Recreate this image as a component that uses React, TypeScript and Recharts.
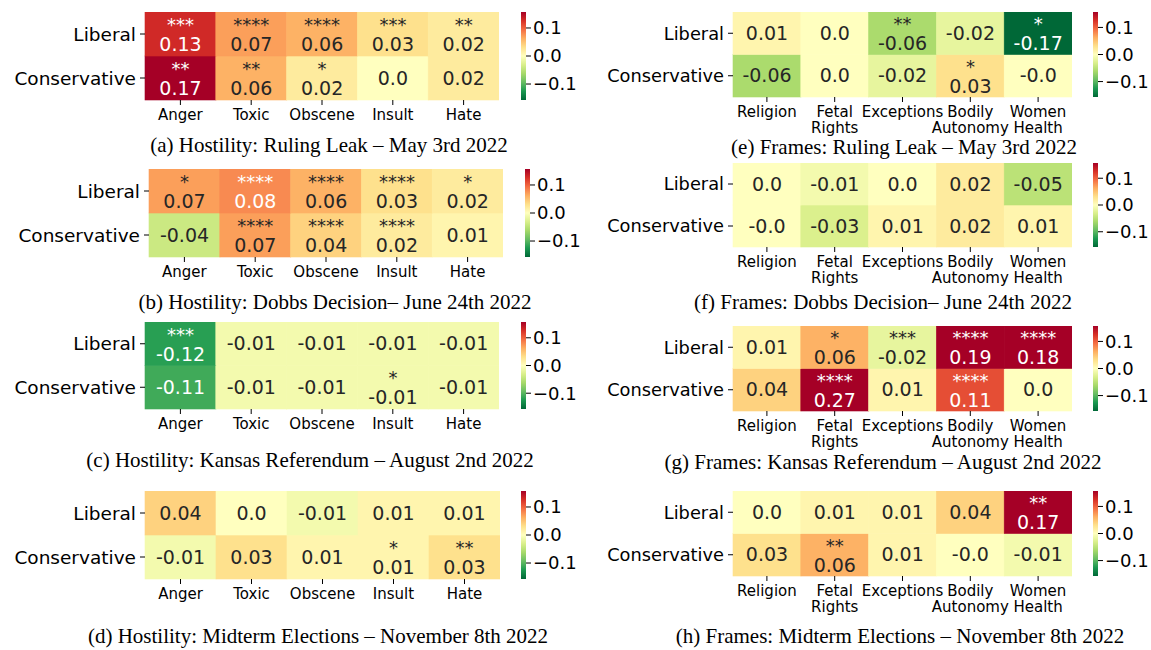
import React from 'react'
import { BarChart, Bar, XAxis, YAxis } from 'recharts'

// Rows and columns
const rowLabels = ['Liberal', 'Conservative']
const hostilityCategories = ['Anger', 'Toxic', 'Obscene', 'Insult', 'Hate']
const frameCategories = ['Religion', 'Fetal Rights', 'Exceptions', 'Bodily Autonomy', 'Women Health']
const colorbarTicks = [-0.1, 0, 0.1]

// (a) Hostility: Ruling Leak
const leakHostLib = [0.13, 0.07, 0.06, 0.03, 0.02]
const leakHostLibSig = ['***', '****', '****', '***', '**']
const leakHostCons = [0.17, 0.06, 0.02, 0.0, 0.02]
const leakHostConsSig = ['**', '**', '*', '', '']

// (b) Hostility: Dobbs Decision
const dobbsHostLib = [0.07, 0.08, 0.06, 0.03, 0.02]
const dobbsHostLibSig = ['*', '****', '****', '****', '*']
const dobbsHostCons = [-0.04, 0.07, 0.04, 0.02, 0.01]
const dobbsHostConsSig = ['', '****', '****', '****', '']

// (c) Hostility: Kansas Referendum
const kansasHostLib = [-0.12, -0.01, -0.01, -0.01, -0.01]
const kansasHostLibSig = ['***', '', '', '', '']
const kansasHostCons = [-0.11, -0.01, -0.01, -0.01, -0.01]
const kansasHostConsSig = ['', '', '', '*', '']

// (d) Hostility: Midterm Elections
const midtermHostLib = [0.04, 0.0, -0.01, 0.01, 0.01]
const midtermHostLibSig = ['', '', '', '', '']
const midtermHostCons = [-0.01, 0.03, 0.01, 0.01, 0.03]
const midtermHostConsSig = ['', '', '', '*', '**']

// (e) Frames: Ruling Leak
const leakFrameLib = [0.01, 0.0, -0.06, -0.02, -0.17]
const leakFrameLibSig = ['', '', '**', '', '*']
const leakFrameCons = [-0.06, 0.0, -0.02, 0.03, -0.0]
const leakFrameConsSig = ['', '', '', '*', '']

// (f) Frames: Dobbs Decision
const dobbsFrameLib = [0.0, -0.01, 0.0, 0.02, -0.05]
const dobbsFrameLibSig = ['', '', '', '', '']
const dobbsFrameCons = [-0.0, -0.03, 0.01, 0.02, 0.01]
const dobbsFrameConsSig = ['', '', '', '', '']

// (g) Frames: Kansas Referendum
const kansasFrameLib = [0.01, 0.06, -0.02, 0.19, 0.18]
const kansasFrameLibSig = ['', '*', '***', '****', '****']
const kansasFrameCons = [0.04, 0.27, 0.01, 0.11, 0.0]
const kansasFrameConsSig = ['', '****', '', '****', '']

// (h) Frames: Midterm Elections
const midtermFrameLib = [0.0, 0.01, 0.01, 0.04, 0.17]
const midtermFrameLibSig = ['', '', '', '', '**']
const midtermFrameCons = [0.03, 0.06, 0.01, -0.0, -0.01]
const midtermFrameConsSig = ['', '**', '', '', '']

const panels = [
  { id: 'a', cats: hostilityCategories, lib: leakHostLib, libSig: leakHostLibSig, cons: leakHostCons, consSig: leakHostConsSig, caption: '(a) Hostility: Ruling Leak – May 3rd 2022' },
  { id: 'b', cats: hostilityCategories, lib: dobbsHostLib, libSig: dobbsHostLibSig, cons: dobbsHostCons, consSig: dobbsHostConsSig, caption: '(b) Hostility: Dobbs Decision– June 24th 2022' },
  { id: 'c', cats: hostilityCategories, lib: kansasHostLib, libSig: kansasHostLibSig, cons: kansasHostCons, consSig: kansasHostConsSig, caption: '(c) Hostility: Kansas Referendum – August 2nd 2022' },
  { id: 'd', cats: hostilityCategories, lib: midtermHostLib, libSig: midtermHostLibSig, cons: midtermHostCons, consSig: midtermHostConsSig, caption: '(d) Hostility: Midterm Elections – November 8th 2022' },
  { id: 'e', cats: frameCategories, lib: leakFrameLib, libSig: leakFrameLibSig, cons: leakFrameCons, consSig: leakFrameConsSig, caption: '(e) Frames: Ruling Leak – May 3rd 2022' },
  { id: 'f', cats: frameCategories, lib: dobbsFrameLib, libSig: dobbsFrameLibSig, cons: dobbsFrameCons, consSig: dobbsFrameConsSig, caption: '(f) Frames: Dobbs Decision– June 24th 2022' },
  { id: 'g', cats: frameCategories, lib: kansasFrameLib, libSig: kansasFrameLibSig, cons: kansasFrameCons, consSig: kansasFrameConsSig, caption: '(g) Frames: Kansas Referendum – August 2nd 2022' },
  { id: 'h', cats: frameCategories, lib: midtermFrameLib, libSig: midtermFrameLibSig, cons: midtermFrameCons, consSig: midtermFrameConsSig, caption: '(h) Frames: Midterm Elections – November 8th 2022' },
]

// page layout: plot box, colorbar x, caption centre, row label size
const layout: Record<string, { x: number; y: number; w: number; h: number; cbX: number; capX: number; capY: number; fs: number }> = {
  a: { x: 145, y: 12, w: 354, h: 88, cbX: 521, capX: 329, capY: 145, fs: 18.5 },
  b: { x: 149, y: 169, w: 354, h: 88, cbX: 525, capX: 335, capY: 302, fs: 18.5 },
  c: { x: 145, y: 322, w: 354, h: 87, cbX: 521, capX: 310, capY: 460, fs: 18.5 },
  d: { x: 145, y: 491, w: 355, h: 88, cbX: 521, capX: 318, capY: 636, fs: 18.5 },
  e: { x: 733, y: 12, w: 339, h: 85, cbX: 1093, capX: 904, capY: 147, fs: 17.8 },
  f: { x: 733, y: 163, w: 339, h: 84, cbX: 1093, capX: 883, capY: 302, fs: 17.8 },
  g: { x: 733, y: 326, w: 339, h: 85, cbX: 1093, capX: 883, capY: 462, fs: 17.8 },
  h: { x: 733, y: 491, w: 339, h: 85, cbX: 1093, capX: 900, capY: 636, fs: 17.8 },
}

const SANS = 'DejaVu Sans'
const SERIF = 'Liberation Serif'
const Y_AXIS_W = 140
const CB_W = 5
const VMAX = 0.157
const VMIN = -0.157

// RdYlGn, red first (reversed when mapping values)
const RDYLGN = ['#a50026', '#d73027', '#f46d43', '#fdae61', '#fee08b', '#ffffbf', '#d9ef8b', '#a6d96a', '#66bd63', '#1a9850', '#006837']

const hexToRgb = (h: string) => [1, 3, 5].map(i => parseInt(h.slice(i, i + 2), 16))

function valueColor(v: number) {
  let t = (v - VMIN) / (VMAX - VMIN)
  t = Math.max(0, Math.min(1, t))
  const s = (1 - t) * 10
  const i = Math.min(9, Math.floor(s))
  const f = s - i
  const a = hexToRgb(RDYLGN[i])
  const b = hexToRgb(RDYLGN[i + 1])
  const c = a.map((x, k) => Math.round(x + (b[k] - x) * f))
  return `rgb(${c[0]},${c[1]},${c[2]})`
}

// same rule seaborn uses for annotation colour
function textColor(rgb: string) {
  const c = rgb.match(/\d+/g)!.map(Number).map(x => {
    const s = x / 255
    return s <= 0.03928 ? s / 12.92 : Math.pow((s + 0.055) / 1.055, 2.4)
  })
  const lum = 0.2126 * c[0] + 0.7152 * c[1] + 0.0722 * c[2]
  return lum > 0.408 ? '#262626' : '#ffffff'
}

function fmt(v: number) {
  const s = Object.is(v, -0) ? '-0' : String(v)
  return s.includes('.') ? s : s + '.0'
}

function HeatCell(props: any) {
  const { x, y, width, height, payload, valueKey, sigKey } = props
  const v = payload[valueKey]
  const sig = payload[sigKey]
  const fill = valueColor(v)
  const txt = textColor(fill)
  const cx = x + width / 2
  const cy = y + height / 2
  return (
    <g>
      <rect x={x} y={y} width={width} height={height} fill={fill} stroke={fill} strokeWidth={0.6} />
      {sig ? (
        <>
          <text x={cx} y={cy - 3} textAnchor="middle" fontSize={18} fontFamily={SANS} fill={txt}>{sig}</text>
          <text x={cx} y={cy + 17} textAnchor="middle" fontSize={19} fontFamily={SANS} fill={txt}>{fmt(v)}</text>
        </>
      ) : (
        <text x={cx} y={cy + 6.5} textAnchor="middle" fontSize={19} fontFamily={SANS} fill={txt}>{fmt(v)}</text>
      )}
    </g>
  )
}

function XTick(props: any) {
  const { x, y, payload } = props
  const lines = String(payload.value).split(' ')
  return (
    <g transform={`translate(${x},${y})`}>
      <text textAnchor="middle" fontSize={15} fontFamily={SANS} fill="#000">
        {lines.map((l, i) => (
          <tspan key={i} x={0} dy={i === 0 ? '0.85em' : '1.05em'}>{l}</tspan>
        ))}
      </text>
    </g>
  )
}

function Heatmap({ p }: { p: any }) {
  const L = layout[p.id]
  const data = p.cats.map((name: string, i: number) => ({
    name,
    cons: 1,
    lib: 1,
    consVal: p.cons[i],
    libVal: p.lib[i],
    consSig: p.consSig[i],
    libSig: p.libSig[i],
  }))
  const xAxisH = p.cats === frameCategories ? 46 : 30
  return (
    <div style={{ position: 'absolute', left: L.x - Y_AXIS_W, top: L.y }}>
      <BarChart width={Y_AXIS_W + L.w} height={L.h + xAxisH} data={data}
        margin={{ top: 0, right: 0, bottom: 0, left: 0 }} barCategoryGap={0} barGap={0}>
        <XAxis dataKey="name" axisLine={false} tickLine={{ stroke: '#000' }} tickSize={5} tickMargin={2}
          interval={0} height={xAxisH} tick={(t: any) => <XTick {...t} />} />
        <YAxis type="number" domain={[0, 2]} ticks={[0.5, 1.5]} width={Y_AXIS_W}
          tickFormatter={(v: number) => (v > 1 ? rowLabels[0] : rowLabels[1])}
          axisLine={false} tickLine={{ stroke: '#000' }} tickSize={5} tickMargin={4}
          tick={{ fill: '#000', fontSize: L.fs, fontFamily: SANS }} />
        <Bar dataKey="cons" stackId="h" isAnimationActive={false}
          shape={(s: any) => <HeatCell {...s} valueKey="consVal" sigKey="consSig" />} />
        <Bar dataKey="lib" stackId="h" isAnimationActive={false}
          shape={(s: any) => <HeatCell {...s} valueKey="libVal" sigKey="libSig" />} />
      </BarChart>
    </div>
  )
}

function Colorbar({ x, y, h }: { x: number; y: number; h: number }) {
  const data = [{ name: 'cb', range: [VMIN, VMAX] }]
  return (
    <div style={{ position: 'absolute', left: x, top: y }}>
      <BarChart width={CB_W + 54} height={h} data={data} margin={{ top: 0, right: 0, bottom: 0, left: 0 }} barCategoryGap={0}>
        <XAxis dataKey="name" hide />
        <YAxis orientation="right" type="number" domain={[VMIN, VMAX]} ticks={colorbarTicks} width={54}
          tickFormatter={(v: number) => (v < 0 ? '−' + (-v).toFixed(1) : v.toFixed(1))}
          axisLine={false} tickLine={{ stroke: '#000' }} tickSize={5} tickMargin={2}
          tick={{ fill: '#000', fontSize: 18, fontFamily: SANS, textAnchor: 'start' }} />
        <Bar dataKey="range" fill="url(#cbGrad)" isAnimationActive={false} />
      </BarChart>
    </div>
  )
}

export default function App() {
  return (
    <div style={{ position: 'absolute', left: 0, top: 0, width: 1151, height: 650, background: '#fff', overflow: 'hidden' }}>
      <svg width={0} height={0} style={{ position: 'absolute' }}>
        <defs>
          <linearGradient id="cbGrad" x1="0" y1="0" x2="0" y2="1">
            {RDYLGN.map((c, i) => (
              <stop key={i} offset={`${i * 10}%`} stopColor={c} />
            ))}
          </linearGradient>
        </defs>
      </svg>
      {panels.map(p => {
        const L = layout[p.id]
        return (
          <React.Fragment key={p.id}>
            <Heatmap p={p} />
            <Colorbar x={L.cbX} y={L.y} h={L.h} />
            <div style={{
              position: 'absolute', left: L.capX, top: L.capY, transform: 'translate(-50%, -50%)',
              fontFamily: SERIF, fontSize: 21, lineHeight: 1, whiteSpace: 'nowrap', color: '#000',
            }}>{p.caption}</div>
          </React.Fragment>
        )
      })}
    </div>
  )
}
